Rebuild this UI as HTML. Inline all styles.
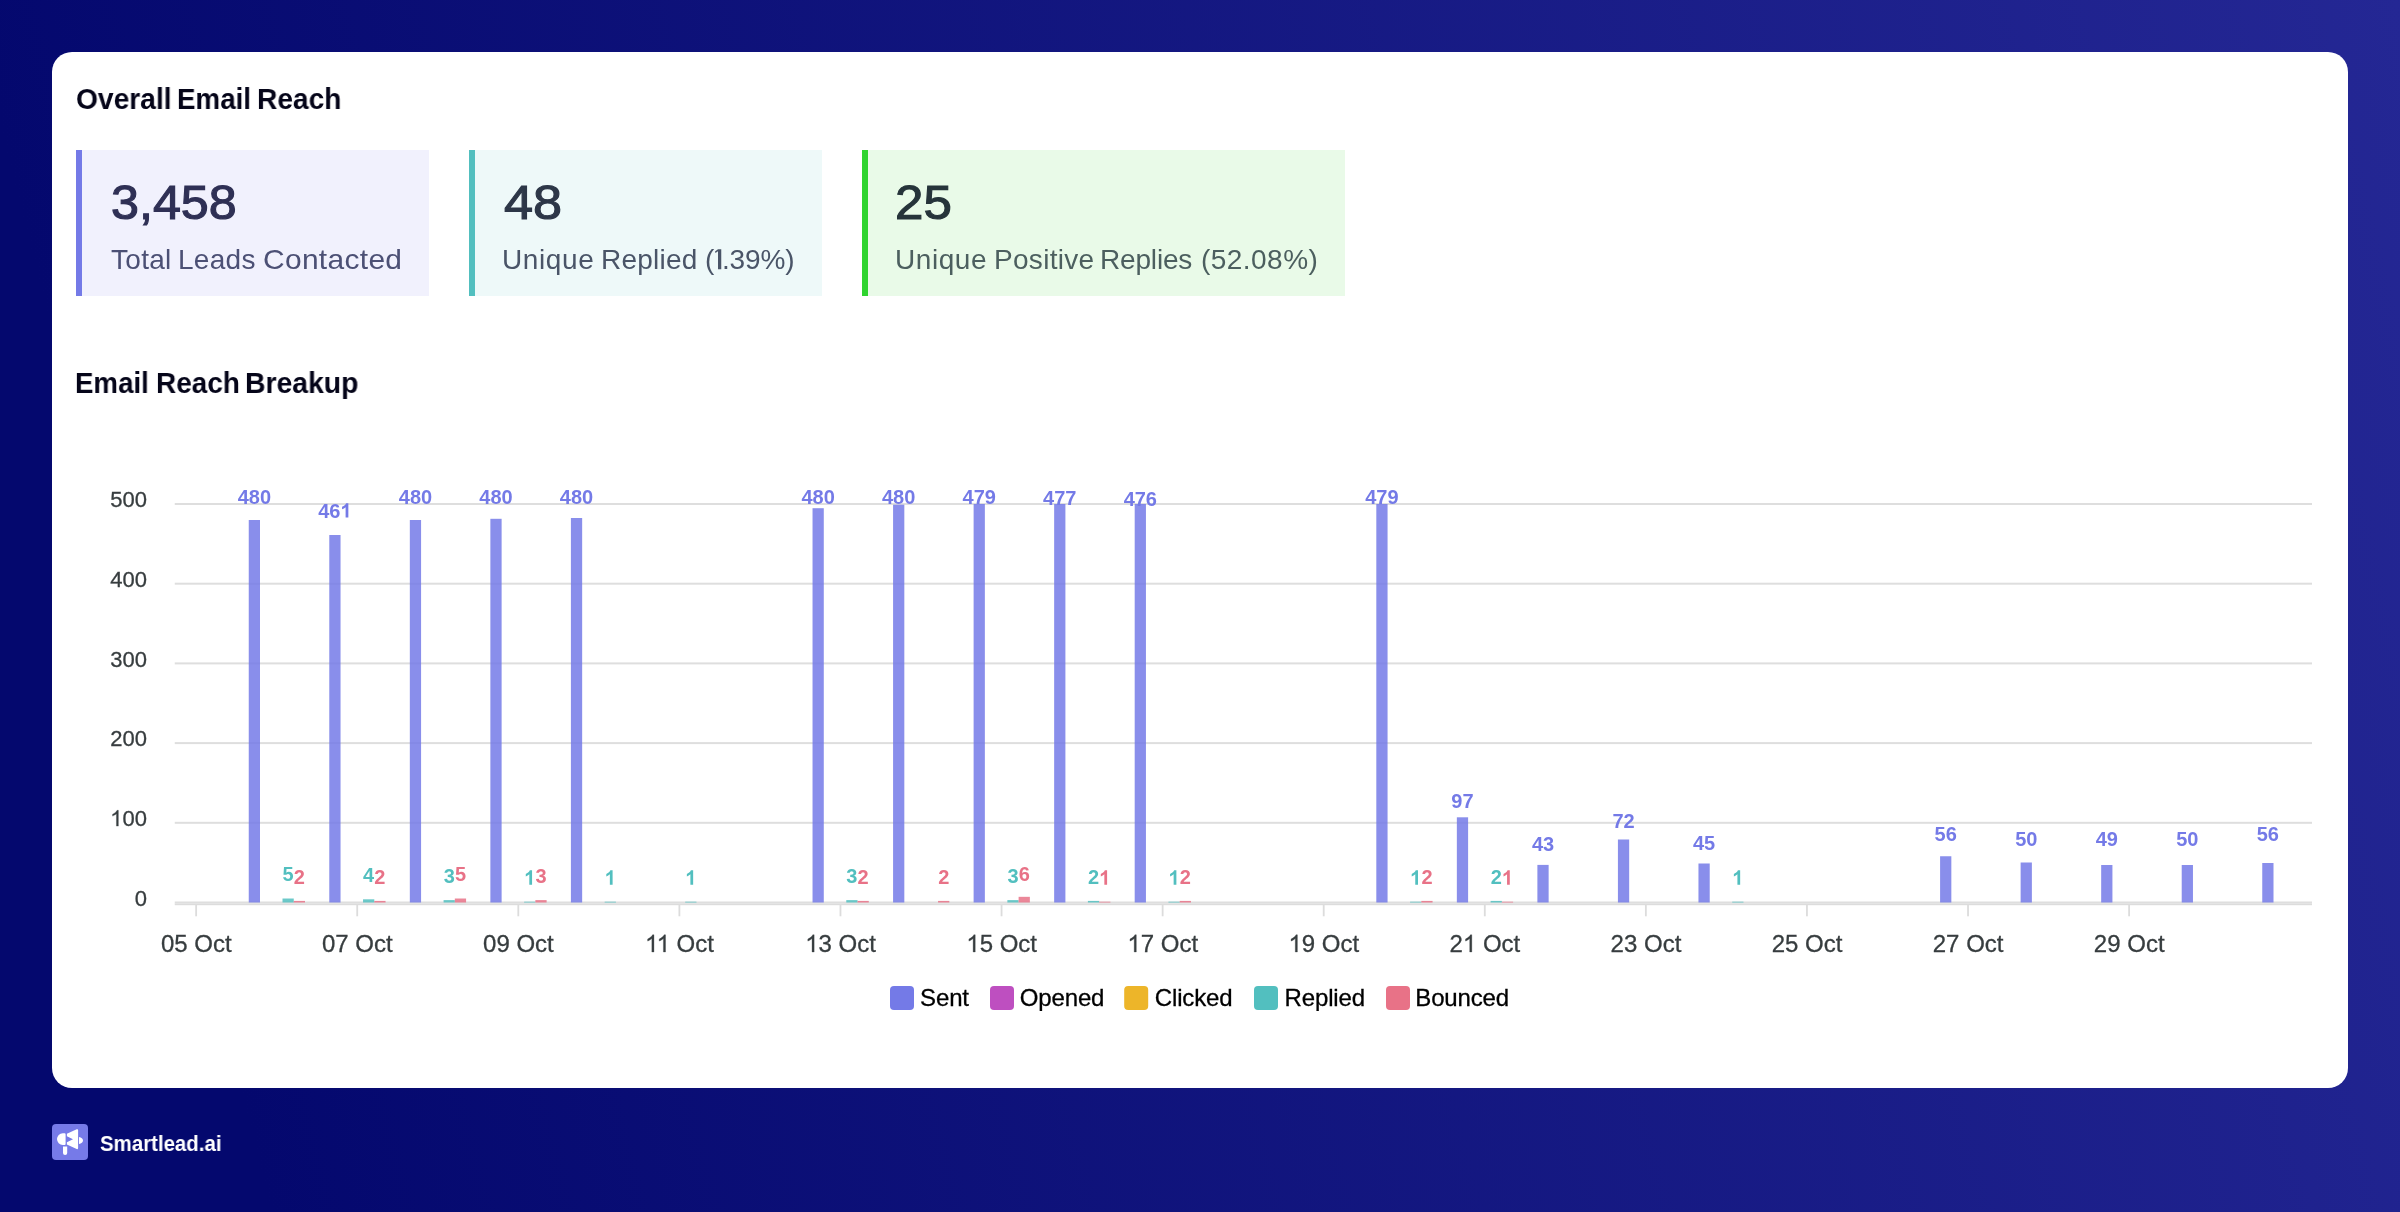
<!DOCTYPE html>
<html><head><meta charset="utf-8"><title>Overall Email Reach</title>
<style>
html,body{margin:0;padding:0;}
body{width:2400px;height:1212px;overflow:hidden;position:relative;font-family:"Liberation Sans",sans-serif;
background:linear-gradient(76deg,#04086e 10%,#242794 100%);}
.card{position:absolute;left:52px;top:52px;width:2296px;height:1036px;background:#fff;border-radius:20px;}
.h{position:absolute;left:76px;font-weight:bold;font-size:29px;line-height:32px;color:#050519;white-space:nowrap;transform-origin:0 0;transform:scaleX(0.95);}
.stat{position:absolute;top:150px;height:146px;box-sizing:border-box;border-left:6px solid;}
.stat .n{position:absolute;left:28.6px;top:24.5px;font-size:48px;line-height:56px;white-space:nowrap;-webkit-text-stroke:1.1px currentColor;transform-origin:0 0;}
.w{position:absolute;top:243px;font-size:28px;line-height:34px;white-space:nowrap;will-change:transform;}
.hw{position:absolute;font-weight:bold;font-size:29px;line-height:32px;color:#050519;white-space:nowrap;transform-origin:0 0;will-change:transform;}
svg{position:absolute;left:0;top:0;}
.aa,.h,.n,.l,.brand{will-change:transform;}
svg text{font-family:"Liberation Sans",sans-serif;}
.dl{font-size:20px;font-weight:bold;text-anchor:middle;}
.yl{font-size:22px;fill:#373d3f;text-anchor:end;stroke:#373d3f;stroke-width:0.3px;}
.xl{font-size:24px;fill:#373d3f;text-anchor:middle;stroke:#373d3f;stroke-width:0.3px;}
.lg{font-size:24px;fill:#000;stroke:#000;stroke-width:0.3px;letter-spacing:-0.15px;}
.o{fill-opacity:0;stroke-opacity:0;}
.logo{position:absolute;left:52px;top:1124px;width:36px;height:36px;border-radius:4px;background:#767ae8;}
.brand{position:absolute;left:99.6px;top:1130.7px;font-size:21.5px;line-height:26px;font-weight:bold;color:#fff;white-space:nowrap;transform-origin:0 0;transform:scaleX(0.95);}
</style></head>
<body>
<div class="card"></div>
<span class="hw" style="left:75.7px;top:82.8px;transform:scaleX(0.972)">Overall</span><span class="hw" style="left:177.3px;top:82.8px;transform:scaleX(0.957)">Email</span><span class="hw" style="left:257.3px;top:82.8px;transform:scaleX(0.97)">Reach</span>
<div class="stat" style="left:76px;width:353px;background:#f1f1fd;border-color:#747ae7"><div class="n" style="color:#2f3055;transform:scaleX(1.047)">3,458</div></div>
<div class="stat" style="left:469px;width:353px;background:#eef9f9;border-color:#52bfbf"><div class="n" style="color:#2d3748;transform:scaleX(1.088)">48</div></div>
<div class="stat" style="left:862px;width:483px;background:#e9fae8;border-color:#2fd42f"><div class="n" style="color:#26343a;transform:scaleX(1.063);margin-left:-1.6px">25</div></div>
<span class="hw" style="left:75.3px;top:366.7px;transform:scaleX(0.954)">Email</span><span class="hw" style="left:155.6px;top:366.7px;transform:scaleX(0.964)">Reach</span><span class="hw" style="left:245px;top:366.7px;transform:scaleX(0.978)">Breakup</span>
<span class="w" style="left:110.8px;color:#4c5075;letter-spacing:0.3px">Total</span><span class="w" style="left:178px;color:#4c5075;letter-spacing:0.3px">Leads</span><span class="w" style="left:263.1px;color:#4c5075;letter-spacing:0.3px;transform-origin:0 0;transform:scaleX(1.069)">Contacted</span><span class="w" style="left:502.2px;color:#4a5568;letter-spacing:0.62px">Unique</span><span class="w" style="left:600.5px;color:#4a5568;letter-spacing:0.22px">Replied</span><span class="w" style="left:704.5px;color:#4a5568;letter-spacing:0px">(</span><span class="w" style="left:722px;color:#4a5568;letter-spacing:-0.17px">.39%)</span><span class="w" style="left:894.6px;color:#4c5f5f;letter-spacing:0.56px">Unique</span><span class="w" style="left:993.6px;color:#4c5f5f;letter-spacing:0.3px">Positive</span><span class="w" style="left:1100.4px;color:#4c5f5f;letter-spacing:-0.17px">Replies</span><span class="w" style="left:1201.1px;color:#4c5f5f;letter-spacing:0.46px">(52.08%)</span>
<svg class="aa" width="2400" height="1212" viewBox="0 0 2400 1212">
<rect x="174.75" y="901.50" width="2137.25" height="2" fill="#dedede"/>
<rect x="174.75" y="821.80" width="2137.25" height="2" fill="#dedede"/>
<rect x="174.75" y="742.10" width="2137.25" height="2" fill="#dedede"/>
<rect x="174.75" y="662.40" width="2137.25" height="2" fill="#dedede"/>
<rect x="174.75" y="582.70" width="2137.25" height="2" fill="#dedede"/>
<rect x="174.75" y="503.00" width="2137.25" height="2" fill="#dedede"/>
<rect x="248.75" y="520.00" width="11.25" height="382.50" fill="#747AE7" fill-opacity="0.85"/>
<rect x="282.50" y="898.51" width="11.25" height="3.99" fill="#52BFBF" fill-opacity="0.85"/>
<rect x="293.75" y="900.91" width="11.25" height="1.59" fill="#E87287" fill-opacity="0.85"/>
<rect x="329.29" y="535.00" width="11.25" height="367.50" fill="#747AE7" fill-opacity="0.85"/>
<rect x="363.04" y="899.31" width="11.25" height="3.19" fill="#52BFBF" fill-opacity="0.85"/>
<rect x="374.29" y="900.91" width="11.25" height="1.59" fill="#E87287" fill-opacity="0.85"/>
<rect x="409.83" y="520.00" width="11.25" height="382.50" fill="#747AE7" fill-opacity="0.85"/>
<rect x="443.58" y="900.11" width="11.25" height="2.39" fill="#52BFBF" fill-opacity="0.85"/>
<rect x="454.83" y="898.51" width="11.25" height="3.99" fill="#E87287" fill-opacity="0.85"/>
<rect x="490.37" y="518.80" width="11.25" height="383.70" fill="#747AE7" fill-opacity="0.85"/>
<rect x="524.12" y="901.70" width="11.25" height="0.80" fill="#52BFBF" fill-opacity="0.85"/>
<rect x="535.37" y="900.11" width="11.25" height="2.39" fill="#E87287" fill-opacity="0.85"/>
<rect x="570.91" y="518.00" width="11.25" height="384.50" fill="#747AE7" fill-opacity="0.85"/>
<rect x="604.66" y="901.70" width="11.25" height="0.80" fill="#52BFBF" fill-opacity="0.85"/>
<rect x="685.20" y="901.70" width="11.25" height="0.80" fill="#52BFBF" fill-opacity="0.85"/>
<rect x="812.53" y="508.20" width="11.25" height="394.30" fill="#747AE7" fill-opacity="0.85"/>
<rect x="846.28" y="900.11" width="11.25" height="2.39" fill="#52BFBF" fill-opacity="0.85"/>
<rect x="857.53" y="900.91" width="11.25" height="1.59" fill="#E87287" fill-opacity="0.85"/>
<rect x="893.07" y="504.70" width="11.25" height="397.80" fill="#747AE7" fill-opacity="0.85"/>
<rect x="938.07" y="900.91" width="11.25" height="1.59" fill="#E87287" fill-opacity="0.85"/>
<rect x="973.61" y="504.00" width="11.25" height="398.50" fill="#747AE7" fill-opacity="0.85"/>
<rect x="1007.36" y="900.11" width="11.25" height="2.39" fill="#52BFBF" fill-opacity="0.85"/>
<rect x="1018.61" y="896.82" width="11.25" height="5.68" fill="#E87287" fill-opacity="0.85"/>
<rect x="1054.15" y="504.00" width="11.25" height="398.50" fill="#747AE7" fill-opacity="0.85"/>
<rect x="1087.90" y="900.91" width="11.25" height="1.59" fill="#52BFBF" fill-opacity="0.85"/>
<rect x="1099.15" y="901.70" width="11.25" height="0.80" fill="#E87287" fill-opacity="0.85"/>
<rect x="1134.69" y="504.00" width="11.25" height="398.50" fill="#747AE7" fill-opacity="0.85"/>
<rect x="1168.44" y="901.70" width="11.25" height="0.80" fill="#52BFBF" fill-opacity="0.85"/>
<rect x="1179.69" y="900.91" width="11.25" height="1.59" fill="#E87287" fill-opacity="0.85"/>
<rect x="1376.31" y="504.00" width="11.25" height="398.50" fill="#747AE7" fill-opacity="0.85"/>
<rect x="1410.06" y="901.70" width="11.25" height="0.80" fill="#52BFBF" fill-opacity="0.85"/>
<rect x="1421.31" y="900.91" width="11.25" height="1.59" fill="#E87287" fill-opacity="0.85"/>
<rect x="1456.85" y="817.30" width="11.25" height="85.20" fill="#747AE7" fill-opacity="0.85"/>
<rect x="1490.60" y="900.91" width="11.25" height="1.59" fill="#52BFBF" fill-opacity="0.85"/>
<rect x="1501.85" y="901.70" width="11.25" height="0.80" fill="#E87287" fill-opacity="0.85"/>
<rect x="1537.39" y="864.90" width="11.25" height="37.60" fill="#747AE7" fill-opacity="0.85"/>
<rect x="1617.93" y="839.50" width="11.25" height="63.00" fill="#747AE7" fill-opacity="0.85"/>
<rect x="1698.47" y="863.50" width="11.25" height="39.00" fill="#747AE7" fill-opacity="0.85"/>
<rect x="1732.22" y="901.70" width="11.25" height="0.80" fill="#52BFBF" fill-opacity="0.85"/>
<rect x="1940.09" y="856.25" width="11.25" height="46.25" fill="#747AE7" fill-opacity="0.85"/>
<rect x="2020.63" y="862.50" width="11.25" height="40.00" fill="#747AE7" fill-opacity="0.85"/>
<rect x="2101.17" y="865.00" width="11.25" height="37.50" fill="#747AE7" fill-opacity="0.85"/>
<rect x="2181.71" y="865.00" width="11.25" height="37.50" fill="#747AE7" fill-opacity="0.85"/>
<rect x="2262.25" y="863.00" width="11.25" height="39.50" fill="#747AE7" fill-opacity="0.85"/>
<rect x="174.75" y="903.5" width="2137.25" height="1.7" fill="#dcdcdc"/>
<rect x="195.25" y="905" width="1.8" height="11.3" fill="#dcdcdc"/>
<rect x="356.33" y="905" width="1.8" height="11.3" fill="#dcdcdc"/>
<rect x="517.41" y="905" width="1.8" height="11.3" fill="#dcdcdc"/>
<rect x="678.49" y="905" width="1.8" height="11.3" fill="#dcdcdc"/>
<rect x="839.57" y="905" width="1.8" height="11.3" fill="#dcdcdc"/>
<rect x="1000.65" y="905" width="1.8" height="11.3" fill="#dcdcdc"/>
<rect x="1161.73" y="905" width="1.8" height="11.3" fill="#dcdcdc"/>
<rect x="1322.81" y="905" width="1.8" height="11.3" fill="#dcdcdc"/>
<rect x="1483.89" y="905" width="1.8" height="11.3" fill="#dcdcdc"/>
<rect x="1644.97" y="905" width="1.8" height="11.3" fill="#dcdcdc"/>
<rect x="1806.05" y="905" width="1.8" height="11.3" fill="#dcdcdc"/>
<rect x="1967.13" y="905" width="1.8" height="11.3" fill="#dcdcdc"/>
<rect x="2128.21" y="905" width="1.8" height="11.3" fill="#dcdcdc"/>
<text class="dl" x="254.38" y="504.00" fill="#747AE7">480</text>
<text class="dl" x="288.12" y="880.81" fill="#52BFBF">5</text>
<text class="dl" x="299.38" y="883.91" fill="#E87287">2</text>
<text id="t3" class="dl" x="334.92" y="517.50" fill="#747AE7">46<tspan class="o">1</tspan></text>
<path d="M7.871 0H5.127V-10.342Q3.623-8.936 1.582-8.262V-10.752Q2.656-11.104 3.916-12.085T5.645-14.375H7.871Z" transform="translate(340.48 517.50) scale(1.000)" fill="#747AE7"/>
<text class="dl" x="368.67" y="882.31" fill="#52BFBF">4</text>
<text class="dl" x="379.92" y="883.91" fill="#E87287">2</text>
<text class="dl" x="415.46" y="504.00" fill="#747AE7">480</text>
<text class="dl" x="449.21" y="883.11" fill="#52BFBF">3</text>
<text class="dl" x="460.46" y="880.81" fill="#E87287">5</text>
<text class="dl" x="496.00" y="504.00" fill="#747AE7">480</text>
<text id="t10" class="dl" x="529.75" y="884.70" fill="#52BFBF"><tspan class="o">1</tspan></text>
<path d="M7.871 0H5.127V-10.342Q3.623-8.936 1.582-8.262V-10.752Q2.656-11.104 3.916-12.085T5.645-14.375H7.871Z" transform="translate(524.19 884.70) scale(1.000)" fill="#52BFBF"/>
<text class="dl" x="541.00" y="883.11" fill="#E87287">3</text>
<text class="dl" x="576.54" y="504.00" fill="#747AE7">480</text>
<text id="t13" class="dl" x="610.29" y="884.70" fill="#52BFBF"><tspan class="o">1</tspan></text>
<path d="M7.871 0H5.127V-10.342Q3.623-8.936 1.582-8.262V-10.752Q2.656-11.104 3.916-12.085T5.645-14.375H7.871Z" transform="translate(604.73 884.70) scale(1.000)" fill="#52BFBF"/>
<text id="t14" class="dl" x="690.83" y="884.70" fill="#52BFBF"><tspan class="o">1</tspan></text>
<path d="M7.871 0H5.127V-10.342Q3.623-8.936 1.582-8.262V-10.752Q2.656-11.104 3.916-12.085T5.645-14.375H7.871Z" transform="translate(685.27 884.70) scale(1.000)" fill="#52BFBF"/>
<text class="dl" x="818.16" y="504.00" fill="#747AE7">480</text>
<text class="dl" x="851.91" y="883.11" fill="#52BFBF">3</text>
<text class="dl" x="863.16" y="883.91" fill="#E87287">2</text>
<text class="dl" x="898.70" y="504.00" fill="#747AE7">480</text>
<text class="dl" x="943.70" y="883.91" fill="#E87287">2</text>
<text class="dl" x="979.24" y="504.00" fill="#747AE7">479</text>
<text class="dl" x="1012.99" y="883.11" fill="#52BFBF">3</text>
<text class="dl" x="1024.24" y="880.72" fill="#E87287">6</text>
<text class="dl" x="1059.78" y="504.70" fill="#747AE7">477</text>
<text class="dl" x="1093.53" y="883.91" fill="#52BFBF">2</text>
<text id="t25" class="dl" x="1104.78" y="884.70" fill="#E87287"><tspan class="o">1</tspan></text>
<path d="M7.871 0H5.127V-10.342Q3.623-8.936 1.582-8.262V-10.752Q2.656-11.104 3.916-12.085T5.645-14.375H7.871Z" transform="translate(1099.22 884.70) scale(1.000)" fill="#E87287"/>
<text class="dl" x="1140.32" y="505.70" fill="#747AE7">476</text>
<text id="t27" class="dl" x="1174.07" y="884.70" fill="#52BFBF"><tspan class="o">1</tspan></text>
<path d="M7.871 0H5.127V-10.342Q3.623-8.936 1.582-8.262V-10.752Q2.656-11.104 3.916-12.085T5.645-14.375H7.871Z" transform="translate(1168.51 884.70) scale(1.000)" fill="#52BFBF"/>
<text class="dl" x="1185.32" y="883.91" fill="#E87287">2</text>
<text class="dl" x="1381.94" y="504.00" fill="#747AE7">479</text>
<text id="t30" class="dl" x="1415.69" y="884.70" fill="#52BFBF"><tspan class="o">1</tspan></text>
<path d="M7.871 0H5.127V-10.342Q3.623-8.936 1.582-8.262V-10.752Q2.656-11.104 3.916-12.085T5.645-14.375H7.871Z" transform="translate(1410.13 884.70) scale(1.000)" fill="#52BFBF"/>
<text class="dl" x="1426.94" y="883.91" fill="#E87287">2</text>
<text class="dl" x="1462.48" y="808.10" fill="#747AE7">97</text>
<text class="dl" x="1496.23" y="883.91" fill="#52BFBF">2</text>
<text id="t34" class="dl" x="1507.48" y="884.70" fill="#E87287"><tspan class="o">1</tspan></text>
<path d="M7.871 0H5.127V-10.342Q3.623-8.936 1.582-8.262V-10.752Q2.656-11.104 3.916-12.085T5.645-14.375H7.871Z" transform="translate(1501.92 884.70) scale(1.000)" fill="#E87287"/>
<text class="dl" x="1543.02" y="851.20" fill="#747AE7">43</text>
<text class="dl" x="1623.56" y="828.25" fill="#747AE7">72</text>
<text class="dl" x="1704.10" y="850.00" fill="#747AE7">45</text>
<text id="t38" class="dl" x="1737.85" y="884.70" fill="#52BFBF"><tspan class="o">1</tspan></text>
<path d="M7.871 0H5.127V-10.342Q3.623-8.936 1.582-8.262V-10.752Q2.656-11.104 3.916-12.085T5.645-14.375H7.871Z" transform="translate(1732.29 884.70) scale(1.000)" fill="#52BFBF"/>
<text class="dl" x="1945.72" y="841.25" fill="#747AE7">56</text>
<text class="dl" x="2026.26" y="845.75" fill="#747AE7">50</text>
<text class="dl" x="2106.80" y="845.75" fill="#747AE7">49</text>
<text class="dl" x="2187.34" y="845.75" fill="#747AE7">50</text>
<text class="dl" x="2267.88" y="841.25" fill="#747AE7">56</text>
<text class="yl" x="146.90" y="905.80">0</text>
<text id="t45" class="yl" x="146.90" y="826.10"><tspan class="o">1</tspan>00</text>
<path d="M7.451 0H5.693V-11.201Q5.059-10.596 4.028-9.99T2.178-9.082V-10.781Q3.652-11.47 4.751-12.451T6.289-14.375H7.451Z" transform="translate(110.17 826.10) scale(1.100)" fill="#373d3f" stroke="#373d3f" stroke-width="0.273"/>
<text class="yl" x="146.90" y="746.40">200</text>
<text class="yl" x="146.90" y="666.70">300</text>
<text class="yl" x="146.90" y="587.00">400</text>
<text class="yl" x="146.90" y="507.30">500</text>
<text class="xl" x="196.25" y="952.00">05 Oct</text>
<text class="xl" x="357.33" y="952.00">07 Oct</text>
<text class="xl" x="518.41" y="952.00">09 Oct</text>
<text id="t53" class="xl" x="679.49" y="952.00"><tspan class="o">1</tspan><tspan class="o">1</tspan> Oct</text>
<path d="M7.451 0H5.693V-11.201Q5.059-10.596 4.028-9.99T2.178-9.082V-10.781Q3.652-11.47 4.751-12.451T6.289-14.375H7.451Z" transform="translate(645.01 952.00) scale(1.200)" fill="#373d3f" stroke="#373d3f" stroke-width="0.250"/>
<path d="M7.451 0H5.693V-11.201Q5.059-10.596 4.028-9.99T2.178-9.082V-10.781Q3.652-11.47 4.751-12.451T6.289-14.375H7.451Z" transform="translate(656.59 952.00) scale(1.200)" fill="#373d3f" stroke="#373d3f" stroke-width="0.250"/>
<text id="t54" class="xl" x="840.57" y="952.00"><tspan class="o">1</tspan>3 Oct</text>
<path d="M7.451 0H5.693V-11.201Q5.059-10.596 4.028-9.99T2.178-9.082V-10.781Q3.652-11.47 4.751-12.451T6.289-14.375H7.451Z" transform="translate(805.21 952.00) scale(1.200)" fill="#373d3f" stroke="#373d3f" stroke-width="0.250"/>
<text id="t55" class="xl" x="1001.65" y="952.00"><tspan class="o">1</tspan>5 Oct</text>
<path d="M7.451 0H5.693V-11.201Q5.059-10.596 4.028-9.99T2.178-9.082V-10.781Q3.652-11.47 4.751-12.451T6.289-14.375H7.451Z" transform="translate(966.29 952.00) scale(1.200)" fill="#373d3f" stroke="#373d3f" stroke-width="0.250"/>
<text id="t56" class="xl" x="1162.73" y="952.00"><tspan class="o">1</tspan>7 Oct</text>
<path d="M7.451 0H5.693V-11.201Q5.059-10.596 4.028-9.99T2.178-9.082V-10.781Q3.652-11.47 4.751-12.451T6.289-14.375H7.451Z" transform="translate(1127.37 952.00) scale(1.200)" fill="#373d3f" stroke="#373d3f" stroke-width="0.250"/>
<text id="t57" class="xl" x="1323.81" y="952.00"><tspan class="o">1</tspan>9 Oct</text>
<path d="M7.451 0H5.693V-11.201Q5.059-10.596 4.028-9.99T2.178-9.082V-10.781Q3.652-11.47 4.751-12.451T6.289-14.375H7.451Z" transform="translate(1288.45 952.00) scale(1.200)" fill="#373d3f" stroke="#373d3f" stroke-width="0.250"/>
<text id="t58" class="xl" x="1484.89" y="952.00">2<tspan class="o">1</tspan> Oct</text>
<path d="M7.451 0H5.693V-11.201Q5.059-10.596 4.028-9.99T2.178-9.082V-10.781Q3.652-11.47 4.751-12.451T6.289-14.375H7.451Z" transform="translate(1462.88 952.00) scale(1.200)" fill="#373d3f" stroke="#373d3f" stroke-width="0.250"/>
<text class="xl" x="1645.97" y="952.00">23 Oct</text>
<text class="xl" x="1807.05" y="952.00">25 Oct</text>
<text class="xl" x="1968.13" y="952.00">27 Oct</text>
<text class="xl" x="2129.21" y="952.00">29 Oct</text>
<rect x="890" y="986" width="24" height="24" rx="4" fill="#747AE7"/>
<text class="lg" x="920.1" y="1005.6">Sent</text>
<rect x="990" y="986" width="24" height="24" rx="4" fill="#BE4FC0"/>
<text class="lg" x="1019.8" y="1005.6">Opened</text>
<rect x="1124.2" y="986" width="24" height="24" rx="4" fill="#EDB529"/>
<text class="lg" x="1154.8" y="1005.6">Clicked</text>
<rect x="1254" y="986" width="24" height="24" rx="4" fill="#52BFBF"/>
<text class="lg" x="1284.6" y="1005.6">Replied</text>
<rect x="1386" y="986" width="24" height="24" rx="4" fill="#E87287"/>
<text class="lg" x="1415.3" y="1005.6">Bounced</text>
<path d="M718 249.2h3.25v20h-3.25v-18l-2.5 1.75l-0.5-1.5z" fill="#4a5568"/>
</svg>
<div class="logo"><svg width="36" height="36" viewBox="0 0 36 36" style="position:static">
<path fill="#fff" d="M10.8 9.3h1.8a1 1 0 0 1 1 1v9.6a1 1 0 0 1-1 1h-1.8a5.8 5.8 0 0 1 0-11.6z"/>
<path fill="#fff" d="M11 22.4h4.2v6.5a2.1 2.1 0 0 1-4.2 0z"/>
<path fill="#fff" d="M14.9 9.7L24.7 5.3a1 1 0 0 1 1.4.9v17.9a1 1 0 0 1-1.4.9L14.9 20.5v-2.3l6.1-2.9-6.1-3.1z"/>
<path fill="#fff" d="M27 12.9c2.3.3 4 1.800 4 3.550s-1.700 3.250-4 3.550z"/>
</svg></div>
<div class="brand">Smartlead.ai</div>
</body></html>
